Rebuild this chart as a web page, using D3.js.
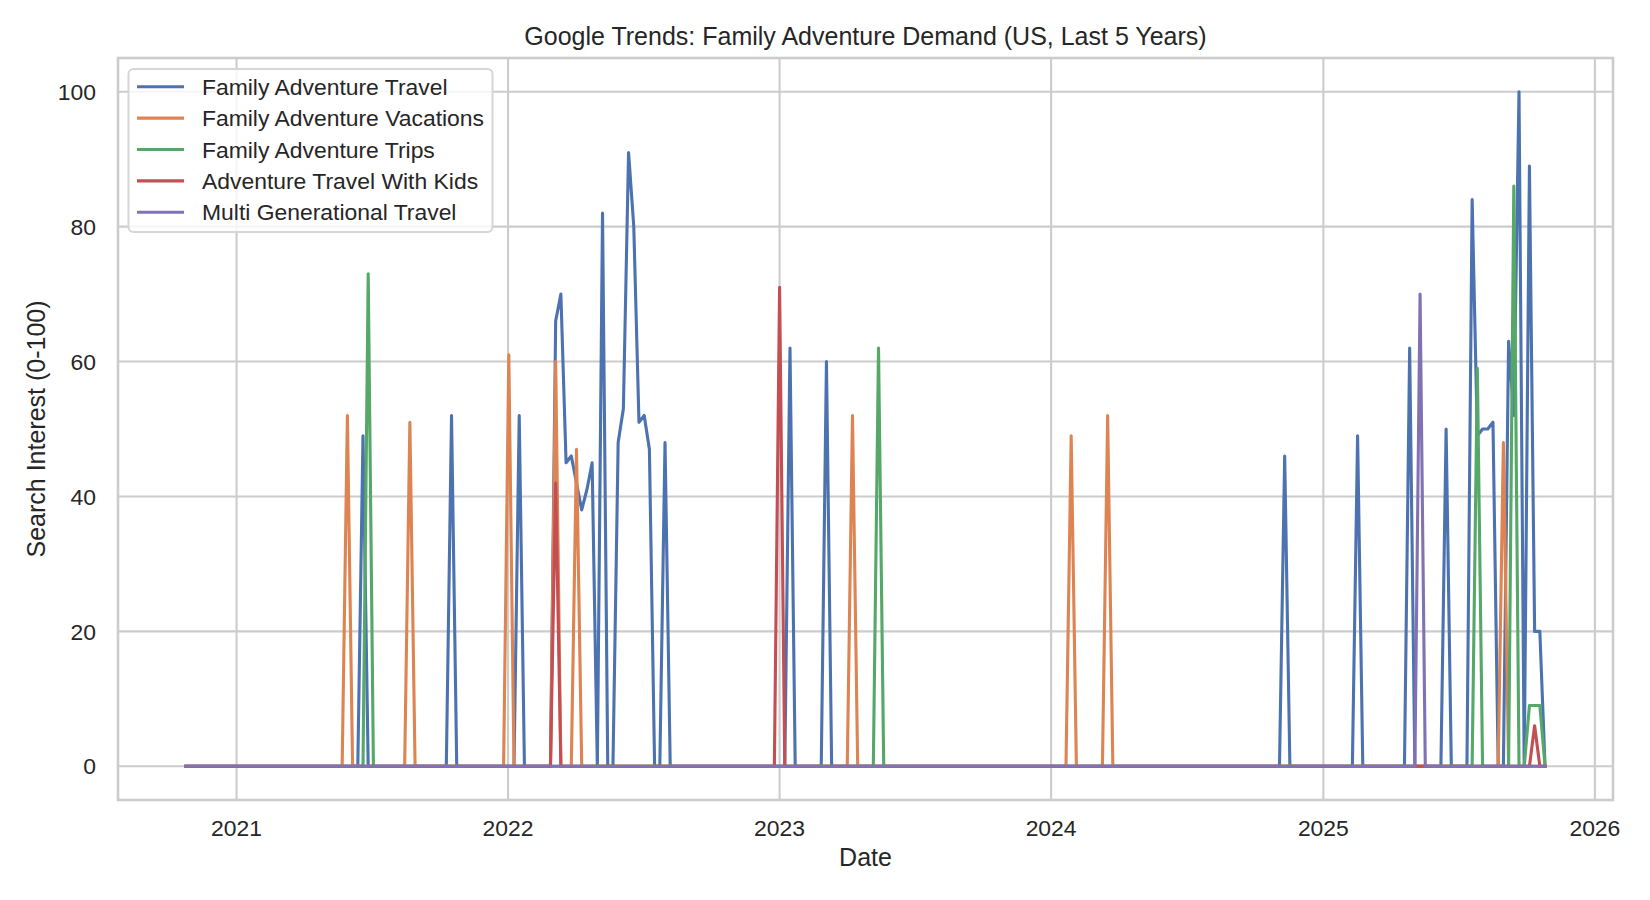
<!DOCTYPE html>
<html>
<head>
<meta charset="utf-8">
<script src="https://cdn.jsdelivr.net/npm/d3@7"></script>
<style>
  body { margin: 0; background: #fff; }
  text { font-family: "Liberation Sans", Arial, sans-serif; fill: #262626; }
</style>
</head>
<body>
<script>
// weekly dates (Sundays) of the Google Trends export
var startDate = new Date(2020, 9, 25);
var endDate = new Date(2025, 9, 26);

var seriesNames = ['Family Adventure Travel', 'Family Adventure Vacations', 'Family Adventure Trips',
                   'Adventure Travel With Kids', 'Multi Generational Travel'];
var colors = ['#4c72b0', '#dd8452', '#55a868', '#c44e52', '#8172b3'];

// only the weeks that are not zero
var travelWeeks = [
  ['2021-06-20', 49], ['2021-10-17', 52], ['2022-01-16', 52],
  ['2022-03-06', 66], ['2022-03-13', 70], ['2022-03-20', 45], ['2022-03-27', 46], ['2022-04-03', 42],
  ['2022-04-10', 38], ['2022-04-17', 41], ['2022-04-24', 45], ['2022-05-08', 82],
  ['2022-05-29', 48], ['2022-06-05', 53], ['2022-06-12', 91], ['2022-06-19', 80], ['2022-06-26', 51],
  ['2022-07-03', 52], ['2022-07-10', 47], ['2022-07-31', 48],
  ['2023-01-15', 62], ['2023-03-05', 60], ['2024-11-10', 46], ['2025-02-16', 49],
  ['2025-04-27', 62], ['2025-06-15', 50], ['2025-07-20', 84], ['2025-07-27', 49], ['2025-08-03', 50],
  ['2025-08-10', 50], ['2025-08-17', 51], ['2025-09-07', 63], ['2025-09-14', 52], ['2025-09-21', 100],
  ['2025-10-05', 89], ['2025-10-12', 20], ['2025-10-19', 20]
];
var vacationsWeeks = [
  ['2021-05-30', 52], ['2021-08-22', 51], ['2022-01-02', 61], ['2022-03-06', 60], ['2022-04-03', 47],
  ['2023-04-09', 52], ['2024-01-28', 49], ['2024-03-17', 52], ['2025-08-31', 48]
];
var tripsWeeks = [
  ['2021-06-27', 73], ['2023-05-14', 62], ['2025-07-27', 59], ['2025-09-14', 86],
  ['2025-10-05', 9], ['2025-10-12', 9], ['2025-10-19', 9]
];
var kidsWeeks = [
  ['2022-03-06', 42], ['2023-01-01', 71], ['2025-10-12', 6]
];
var multiGenWeeks = [
  ['2025-05-11', 70]
];

var yTicks = [0, 20, 40, 60, 80, 100];

var width = 1650, height = 900;
var margin = {left: 118, right: 37, top: 58, bottom: 100};

var svg = d3.select('body').append('svg').attr('width', width).attr('height', height);

var parse = d3.timeParse('%Y-%m-%d');
var weeks = d3.timeWeek.range(startDate, d3.timeDay.offset(endDate, 1));

function toSeries(list) {
  var m = new Map(list.map(d => [d[0], d[1]]));
  var fmt = d3.timeFormat('%Y-%m-%d');
  return weeks.map(w => ({date: w, value: m.has(fmt(w)) ? m.get(fmt(w)) : 0}));
}
var series = [travelWeeks, vacationsWeeks, tripsWeeks, kidsWeeks, multiGenWeeks].map(toSeries);

// matplotlib style 5% margins
var span = endDate - startDate;
var x = d3.scaleTime()
  .domain([new Date(+startDate - span * 0.05), new Date(+endDate + span * 0.05)])
  .range([margin.left, width - margin.right]);
var y = d3.scaleLinear().domain([-5, 105]).range([height - margin.bottom, margin.top]);

var x0 = margin.left, x1 = width - margin.right, y0 = height - margin.bottom, y1 = margin.top;

// grid
var yearTicks = d3.timeYear.range(new Date(2021, 0, 1), new Date(2026, 0, 2));
svg.selectAll('line.vgrid').data(yearTicks).enter().append('line')
  .attr('x1', d => x(d)).attr('x2', d => x(d)).attr('y1', y1).attr('y2', y0)
  .attr('stroke', '#cccccc').attr('stroke-width', 2.1);
svg.selectAll('line.hgrid').data(yTicks).enter().append('line')
  .attr('x1', x0).attr('x2', x1).attr('y1', d => y(d)).attr('y2', d => y(d))
  .attr('stroke', '#cccccc').attr('stroke-width', 2.1);

// lines
var line = d3.line().x(d => x(d.date)).y(d => y(d.value));
svg.selectAll('path.series').data(series).enter().append('path')
  .attr('d', line)
  .attr('fill', 'none')
  .attr('stroke', (d, i) => colors[i])
  .attr('stroke-width', 3.1)
  .attr('stroke-linejoin', 'round')
  .attr('stroke-linecap', 'square');

// frame
svg.append('rect').attr('x', x0).attr('y', y1).attr('width', x1 - x0).attr('height', y0 - y1)
  .attr('fill', 'none').attr('stroke', '#cccccc').attr('stroke-width', 2.6);

// tick labels
svg.selectAll('text.xt').data(yearTicks).enter().append('text')
  .attr('x', d => x(d)).attr('y', y0 + 36).attr('text-anchor', 'middle')
  .attr('font-size', 22.9).text(d => d3.timeFormat('%Y')(d));
svg.selectAll('text.yt').data(yTicks).enter().append('text')
  .attr('x', x0 - 22).attr('y', d => y(d) + 8.2).attr('text-anchor', 'end')
  .attr('font-size', 22.9).text(d => d);

// labels
svg.append('text').attr('x', (x0 + x1) / 2).attr('y', 45).attr('text-anchor', 'middle')
  .attr('font-size', 25).text('Google Trends: Family Adventure Demand (US, Last 5 Years)');
svg.append('text').attr('x', (x0 + x1) / 2).attr('y', 866).attr('text-anchor', 'middle')
  .attr('font-size', 25).text('Date');
svg.append('text').attr('transform', 'translate(45,' + ((y0 + y1) / 2) + ') rotate(-90)')
  .attr('text-anchor', 'middle').attr('font-size', 25).text('Search Interest (0-100)');

// legend
var lg = svg.append('g');
lg.append('rect').attr('x', 128.5).attr('y', 69).attr('width', 364).attr('height', 163)
  .attr('rx', 5).attr('fill', 'white').attr('fill-opacity', 0.8)
  .attr('stroke', '#d6d6d6').attr('stroke-width', 2);
var items = lg.selectAll('g.item').data(seriesNames).enter().append('g')
  .attr('transform', (d, i) => 'translate(0,' + (86.7 + i * 31.4) + ')');
items.append('line').attr('x1', 137).attr('x2', 184).attr('y1', 0).attr('y2', 0)
  .attr('stroke', (d, i) => colors[i]).attr('stroke-width', 3.1);
items.append('text').attr('x', 202).attr('y', 8).attr('font-size', 22.9).text(d => d);
</script>
</body>
</html>
